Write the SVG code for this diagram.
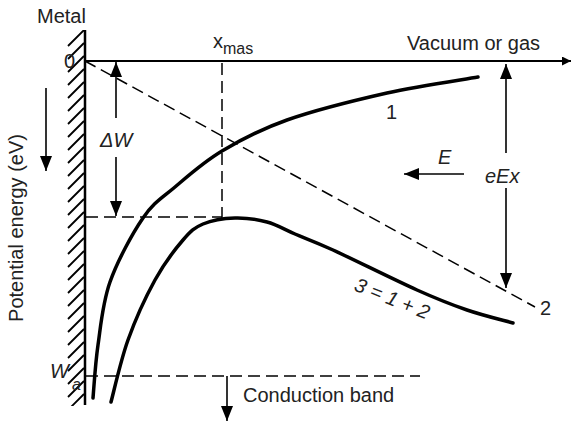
<svg xmlns="http://www.w3.org/2000/svg" width="573" height="422" viewBox="0 0 573 422">
<style>
text{font-family:"Liberation Sans",Arial,sans-serif;font-size:20px;fill:#222}
.it{font-style:italic}
.ln{stroke:#000;fill:none}
.dash{stroke:#000;fill:none;stroke-width:1.5;stroke-dasharray:12 6}
.curve{stroke:#000;fill:none;stroke-width:3.5;stroke-linecap:round}
.arr{stroke:#000;stroke-width:1.6;fill:none}
</style>
<defs>
<marker id="ah" viewBox="0 0 10 10" refX="10" refY="5" markerWidth="9" markerHeight="9" markerUnits="userSpaceOnUse" orient="auto"><path d="M0,0 L10,5 L0,10 z" fill="#000"/></marker>
<marker id="ahL" viewBox="0 0 10 10" refX="10" refY="5" markerWidth="15" markerHeight="15" markerUnits="userSpaceOnUse" orient="auto"><path d="M0,1 L10,5 L0,9 z" fill="#000"/></marker>
<clipPath id="wallclip"><rect x="66" y="30" width="19" height="376"/></clipPath>
</defs>

<g id="metal-wall">
<g clip-path="url(#wallclip)" stroke="#000" stroke-width="1.8">
<path d="M68,46 L84,30 M68,59 L84,43 M68,72 L84,56 M68,85 L84,69 M68,98 L84,82 M68,111 L84,95 M68,124 L84,108 M68,137 L84,121 M68,150 L84,134 M68,163 L84,147 M68,176 L84,160 M68,189 L84,173 M68,202 L84,186 M68,215 L84,199 M68,228 L84,212 M68,241 L84,225 M68,254 L84,238 M68,267 L84,251 M68,280 L84,264 M68,293 L84,277 M68,306 L84,290 M68,319 L84,303 M68,332 L84,316 M68,345 L84,329 M68,358 L84,342 M68,371 L84,355 M68,384 L84,368 M68,397 L84,381 M68,410 L84,394"/>
</g>
<line class="ln" x1="85" y1="30" x2="85" y2="405" stroke-width="2.5"/>
<text x="37" y="23">Metal</text>
<text x="64" y="68">0</text>
</g>

<g id="axis-labels">
<text transform="translate(23,228) rotate(-90)" text-anchor="middle" font-size="21">Potential energy (eV)</text>
<line class="arr" x1="46" y1="88" x2="46" y2="171" marker-end="url(#ahL)" stroke-width="2"/>
<text x="407" y="50">Vacuum or gas</text>
<text x="213" y="48">x<tspan font-size="16" dy="6">mas</tspan></text>
</g>

<g id="connectors">
<line class="ln" x1="85" y1="61" x2="571" y2="61" stroke-width="2" marker-end="url(#ah)"/>
<line class="dash" x1="85" y1="61" x2="535" y2="307" stroke-dasharray="14 8"/>
<line class="dash" x1="222" y1="63" x2="222" y2="218"/>
<line class="dash" x1="86" y1="217" x2="222" y2="217"/>
<line class="dash" x1="86" y1="376" x2="420" y2="376"/>
<line class="arr" x1="116" y1="118" x2="116" y2="62" marker-end="url(#ahL)"/>
<line class="arr" x1="116" y1="157" x2="116" y2="216" marker-end="url(#ahL)"/>
<line class="arr" x1="506" y1="153" x2="506" y2="64" marker-end="url(#ahL)"/>
<line class="arr" x1="506" y1="188" x2="506" y2="288" marker-end="url(#ahL)"/>
<line class="arr" x1="464" y1="174" x2="404" y2="174" stroke-width="2.5" marker-end="url(#ahL)"/>
<line class="arr" x1="227" y1="376" x2="227" y2="421" stroke-width="2" marker-end="url(#ahL)"/>
</g>

<g id="curve-1">
<path class="curve" d="M93,398 C93.8,389.2 95.2,364.3 98,345 C100.8,325.7 102.5,303.2 110,282 C117.5,260.8 132.2,233.8 143,218 C153.8,202.2 161.8,198.2 175,187 C188.2,175.8 203.3,162.2 222,151 C240.7,139.8 259.5,129.7 287,120 C314.5,110.3 355.2,100.2 387,93 C418.8,85.8 462.8,79.7 478,77"/>
<text x="386" y="119">1</text>
</g>

<g id="line-2">
<text x="540" y="315">2</text>
</g>

<g id="curve-3">
<path class="curve" d="M111,402 C113.8,391.7 120.7,360.3 128,340 C135.3,319.7 145.8,296.7 155,280 C164.2,263.3 175,249.3 183,240 C191,230.7 194.3,227.7 203,224 C211.7,220.3 224.3,218.3 235,218 C245.7,217.7 257,219.3 267,222 C277,224.7 284,229.3 295,234 C306,238.7 312.7,240.7 333,250 C353.3,259.3 394.7,280 417,290 C439.3,300 451,304.5 467,310 C483,315.5 505.3,320.8 513,323"/>
<text class="it" transform="translate(353,290) rotate(22)">3 = 1 + 2</text>
</g>

<g id="labels">
<text class="it" x="100" y="147">ΔW</text>
<text class="it" x="438" y="164">E</text>
<text class="it" x="485" y="183">eEx</text>
<text class="it" x="50" y="378" font-size="21">W<tspan x="72" y="390" font-size="16">a</tspan></text>
<text x="243" y="402">Conduction band</text>
</g>
</svg>
